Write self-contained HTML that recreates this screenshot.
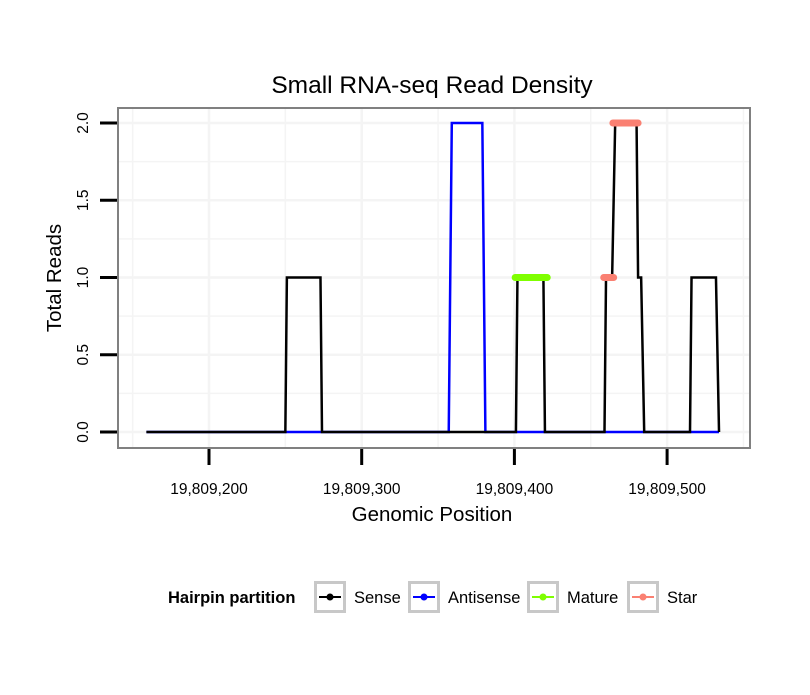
<!DOCTYPE html>
<html><head><meta charset="utf-8"><style>
body{margin:0;background:#fff}
text{font-family:"Liberation Sans",sans-serif}
</style></head><body>
<svg id="chart" width="810" height="690">
<rect width="810" height="690" fill="#fff"/>
<text x="432" y="93" text-anchor="middle" font-size="24.5">Small RNA-seq Read Density</text>
<g id="grid"></g>
<g id="series"></g>
<rect x="118" y="108" width="632" height="340" fill="none" stroke="#808080" stroke-width="2"/>
<g id="axes"></g>
<text x="432" y="521" text-anchor="middle" font-size="20.5">Genomic Position</text>
<text transform="translate(61,278) rotate(-90)" text-anchor="middle" font-size="20.5">Total Reads</text>
<g id="legend">
<text x="168" y="603" font-size="16.5" font-weight="bold">Hairpin partition</text>
</g>
</svg>
<script>
const xTicks=[19809200,19809300,19809400,19809500];
const yTicks=[0,0.5,1,1.5,2];
const senseX=[159,250,251,273,274,401,402,419,420,459,460,464,466,480,481,483,485,515,516,532,534];
const senseY=[0,0,1,1,0,0,1,1,0,0,1,1,2,2,1,1,0,0,1,1,0];
const antiX=[159,357,359,379,381,534];
const antiY=[0,0,2,2,0,0];
const matureSeg=[[400.5,421.5,1]];
const starSeg=[[458.5,465,1],[464.5,481,2]];
const legendNames=["Sense","Antisense","Mature","Star"];
const legendColors=["#000","#0000ff","#7fff00","#fa8072"];
const base=19809000;
const NS="http://www.w3.org/2000/svg";
function X(p){return 209+(p+base-19809200)*1.527;}
function Y(v){return 432-v*154.5;}
function mk(tag,attrs,parent){const e=document.createElementNS(NS,tag);for(const k in attrs)e.setAttribute(k,attrs[k]);parent.appendChild(e);return e;}
const grid=document.getElementById('grid'),ser=document.getElementById('series'),ax=document.getElementById('axes'),lg=document.getElementById('legend');
for(let i=0;i<=8;i++){const v=i*0.25;const g=mk('line',{x1:119,x2:749,y1:Y(v),y2:Y(v),stroke:'#f4f4f4','stroke-width':i%2===0?2.5:1.5},grid);

}
for(let p=19809150;p<=19809550;p+=50){const g=mk('line',{x1:X(p-base),x2:X(p-base),y1:109,y2:447,stroke:'#f4f4f4','stroke-width':p%100===0?2.5:1.5},grid);

}
function path(xs,ys,color,name){let d=xs.map((x,i)=>(i?'L':'M')+X(x)+','+Y(ys[i])).join('');const e=mk('path',{d:d,fill:'none',stroke:color,'stroke-width':2.5},ser);

}
path(antiX,antiY,'#0000ff','antisense-line');
path(senseX,senseY,'#000','sense-line');
function segs(arr,color,name){arr.forEach(s=>{const e=mk('line',{x1:X(s[0]),x2:X(s[1]),y1:Y(s[2]),y2:Y(s[2]),stroke:color,'stroke-width':7,'stroke-linecap':'round'},ser);

});}
segs(matureSeg,'#7fff00','mature-segment');
segs(starSeg,'#fa8072','star-segment');
xTicks.forEach(p=>{const x=X(p-base);const t=mk('line',{x1:x,x2:x,y1:449,y2:465,stroke:'#000','stroke-width':3},ax);


const l=mk('text',{x:x,y:494,'text-anchor':'middle','font-size':15.5},ax);l.textContent=p.toLocaleString('en-US');

});
yTicks.forEach(v=>{const y=Y(v);const t=mk('line',{x1:100,x2:117,y1:y,y2:y,stroke:'#000','stroke-width':3},ax);


const l=mk('text',{transform:`translate(88,${y}) rotate(-90)`,'text-anchor':'middle','font-size':15.5},ax);l.textContent=v.toFixed(1);

});
const kx=[314,408,527,627],tx=[354,448,567,667];
legendNames.forEach((n,i)=>{const g=mk('g',{},lg);


mk('rect',{x:kx[i]+1.5,y:582.5,width:29,height:29,fill:'#fff',stroke:'#c8c8c8','stroke-width':3},g);
mk('line',{x1:kx[i]+5,x2:kx[i]+27,y1:597,y2:597,stroke:legendColors[i],'stroke-width':2},g);
mk('circle',{cx:kx[i]+16,cy:597,r:3.5,fill:legendColors[i]},g);
const t=mk('text',{x:tx[i],y:603,'font-size':16.5},g);t.textContent=n;});
</script>
</body></html>
